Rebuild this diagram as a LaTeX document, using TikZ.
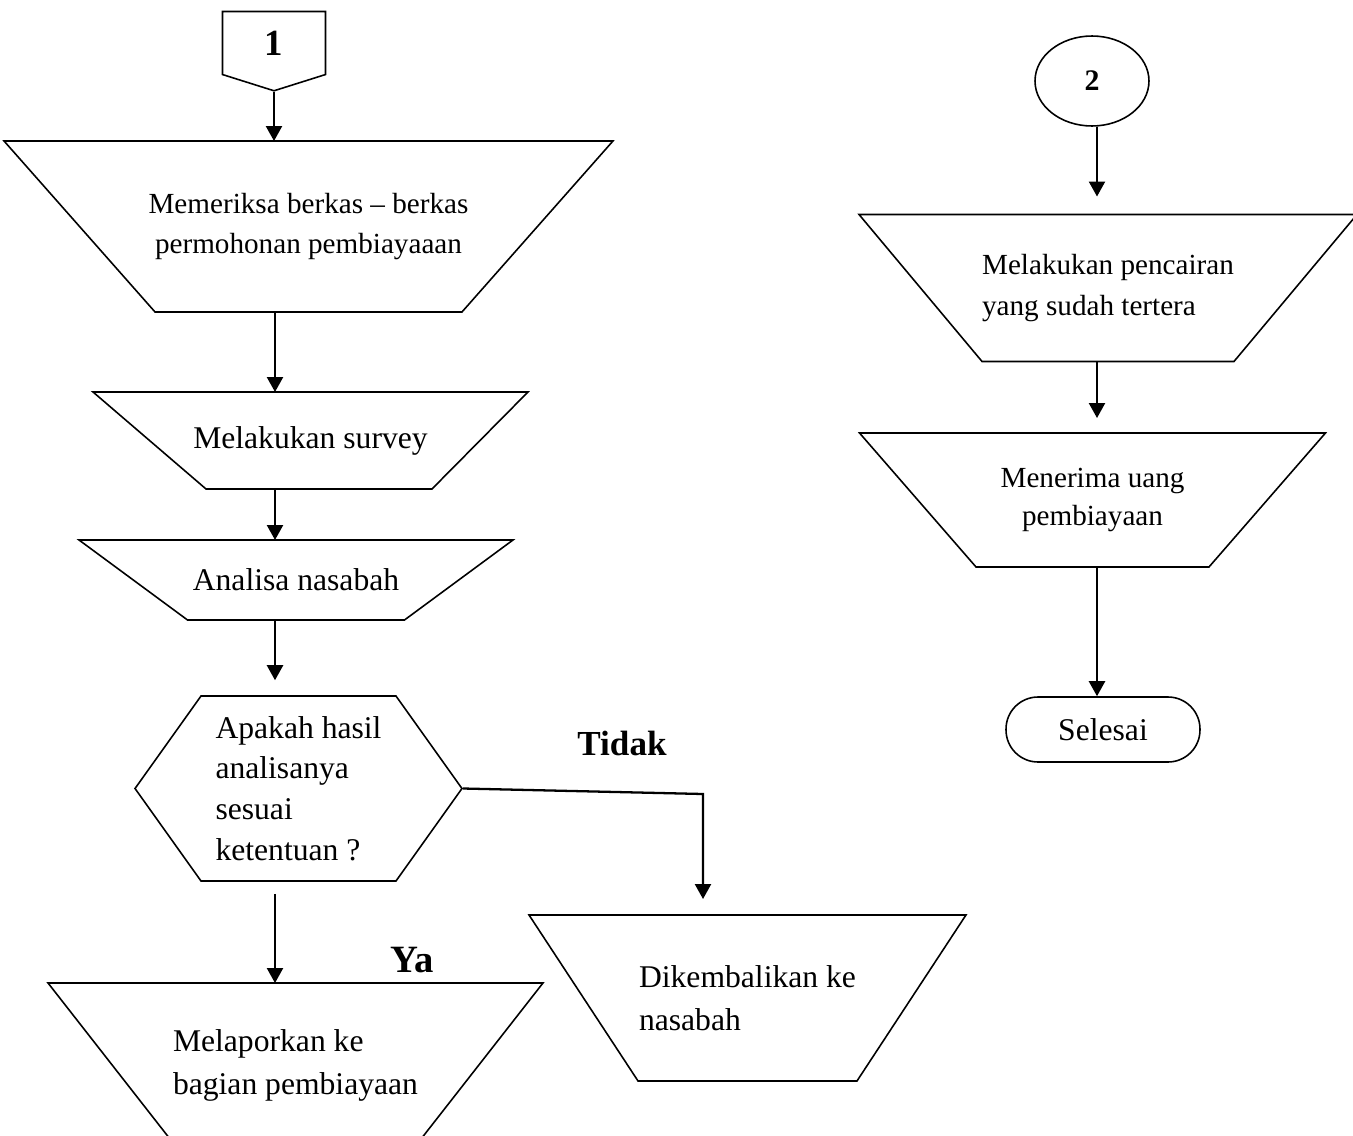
\documentclass[tikz,border=0pt]{standalone}
\usepackage{fontspec}
\setmainfont{Liberation Serif}
\usetikzlibrary{shapes.geometric, shapes.symbols, arrows.meta, positioning, calc}

% inverted trapezoid round a proc node: node, left inset, right inset
\newcommand{\trapframe}[3]{%
  \draw[frame] (#1.north west) -- (#1.north east) -- ([xshift=-#3]#1.south east) -- ([xshift=#2]#1.south west) -- cycle;}

\begin{document}
\begin{tikzpicture}[
        x=0.02cm, y=-0.02cm,
        frame/.style={draw=black, line width=0.9pt, line join=miter},
        proc/.style={rectangle, inner sep=2pt, outer sep=0pt, align=center, font=\fontsize{18}{24.5}\selectfont},
        decision/.style={signal, signal to=west and east, signal pointer angle=109, draw=black, line width=0.9pt, inner sep=0pt, align=left, minimum width=6.54cm, minimum height=3.7cm, font=\fontsize{18}{23.2}\selectfont},
        offpage/.style={signal, signal to=south, signal pointer angle=145, draw=black, line width=0.9pt, inner sep=0pt, minimum width=2.06cm, minimum height=1.32cm, font=\bfseries\fontsize{21}{24}\selectfont},
        connector/.style={ellipse, draw=black, line width=0.9pt, inner sep=0pt, minimum width=2.28cm, minimum height=1.8cm, font=\bfseries\fontsize{17}{20}\selectfont},
        terminal/.style={rectangle, rounded corners=0.64cm, draw=black, line width=0.9pt, minimum width=3.88cm, minimum height=1.3cm, font=\fontsize{18}{22}\selectfont},
        answer/.style={font=\bfseries\fontsize{20}{24}\selectfont},
        arrow/.style={-{Triangle[length=0.3cm, width=0.32cm]}, line width=1.3pt}
    ]
        \useasboundingbox (0,0) rectangle (1353,1136);
        \clip (0,0) rectangle (1353,1136);

        % left column
        \node[offpage] (one) at (274,43) {1};
        \node[proc, minimum width=12.18cm, minimum height=3.42cm, font=\fontsize{16.6}{22.8}\selectfont] (check) at (308.5,226.5) {Memeriksa berkas – berkas\\permohonan pembiayaaan};
        \node[proc, minimum width=8.7cm, minimum height=1.94cm] (survey) at (310.5,440.5) {Melakukan survey};
        \node[proc, minimum width=8.68cm, minimum height=1.6cm] (analyze) at (296,580) {Analisa nasabah};
        \node[decision] (dec) at (298.5,788.5) {Apakah hasil\\analisanya\\sesuai\\ketentuan ?};
        \node[proc, align=left, minimum width=9.9cm, minimum height=3.3cm] (report) at (295.5,1065.5) {Melaporkan ke\\bagian pembiayaan};
        \node[proc, align=left, minimum width=8.74cm, minimum height=3.32cm] (back) at (747.5,998) {Dikembalikan ke\\nasabah};
        \node[answer] (tidak) at (622,743) {Tidak};
        \node[answer, font=\bfseries\fontsize{22}{26}\selectfont] (ya) at (412,960) {Ya};

        % right column
        \node[connector] (two) at (1092,81) {2};
        \node[proc, align=left, minimum width=9.96cm, minimum height=2.94cm, font=\fontsize{16.6}{22.8}\selectfont] (disburse) at (1108,288) {Melakukan pencairan\\yang sudah tertera};
        \node[proc, minimum width=9.32cm, minimum height=2.68cm, font=\fontsize{16.6}{21.6}\selectfont] (receive) at (1092.5,500) {Menerima uang\\pembiayaan};
        \node[terminal] (done) at (1103,729.5) {Selesai};

        \trapframe{check}{3.02cm}{3.02cm}
        \trapframe{survey}{2.26cm}{1.92cm}
        \trapframe{analyze}{2.17cm}{2.17cm}
        \trapframe{report}{2.58cm}{2.58cm}
        \trapframe{back}{2.18cm}{2.18cm}
        \trapframe{disburse}{2.46cm}{2.46cm}
        \trapframe{receive}{2.33cm}{2.33cm}

        \coordinate (lcol) at (275,0);
        \coordinate (rcol) at (1097,0);
        \coordinate (tturn) at (703,794);

        \draw[arrow] (one.south) -- (one.south |- check.north);
        \draw[arrow] (check.south -| lcol) -- (survey.north -| lcol);
        \draw[arrow] (survey.south -| lcol) -- (analyze.north -| lcol);
        \draw[arrow, shorten >=0.3cm] (analyze.south -| lcol) -- (dec.north -| lcol);
        \draw[arrow, shorten <=0.24cm] (dec.south -| lcol) -- (report.north -| lcol);
        \draw[arrow, shorten >=0.32cm] (dec.east) -- (tturn) -- (tturn |- back.north);

        \draw[arrow, shorten >=0.36cm] (two.south -| rcol) -- (disburse.north -| rcol);
        \draw[arrow, shorten >=0.3cm] (disburse.south -| rcol) -- (receive.north -| rcol);
        \draw[arrow] (receive.south -| rcol) -- (done.north -| rcol);
\end{tikzpicture}
\end{document}
